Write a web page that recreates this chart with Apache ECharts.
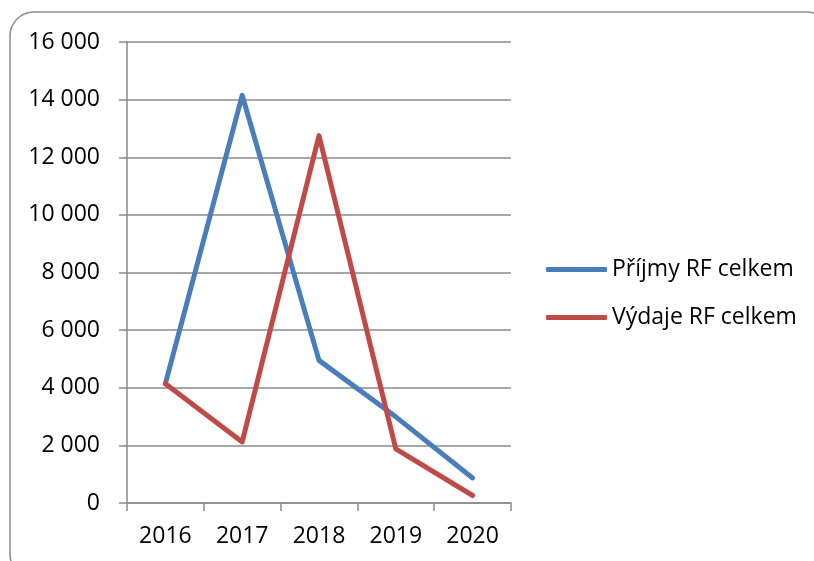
<!DOCTYPE html>
<html>
<head>
<meta charset="utf-8">
<script src="https://cdn.jsdelivr.net/npm/echarts@6/dist/echarts.min.js"></script>
<style>
  html, body { margin: 0; padding: 0; background: #fff; }
  #chart { width: 814px; height: 561px; }
</style>
</head>
<body>
<div id="chart"></div>
<script>
var years = ["2016", "2017", "2018", "2019", "2020"];
var prijmy = [4140, 14150, 4950, 2990, 870];
var vydaje = [4140, 2120, 12750, 1880, 260];
var seriesNames = ["Příjmy RF celkem", "Výdaje RF celkem"];

var font = "Open Sans, Liberation Sans, sans-serif";
var gridColor = "#8a8a8a";

var myChart = echarts.init(document.getElementById("chart"));
var option = {
  animation: false,
  color: ["#4a7ebb", "#be4b48"],
  // rounded frame around the chart, runs past the right/bottom edge
  graphic: [
    {
      type: "rect",
      shape: { x: 10, y: 12, width: 820, height: 566, r: 24 },
      style: { fill: "none", stroke: "#8c8c8c", lineWidth: 1.5 }
    }
  ],
  grid: { left: 127, top: 42, width: 384, height: 461 },
  legend: {
    orient: "vertical",
    left: 541,
    top: 253,
    itemGap: 25,
    itemWidth: 61,
    itemHeight: 5,
    icon: "roundRect",
    textStyle: { fontFamily: font, fontSize: 23, color: "#000", padding: [0, 0, 0, 0] },
    data: seriesNames
  },
  xAxis: {
    type: "category",
    data: years,
    boundaryGap: true,
    axisLine: { lineStyle: { color: gridColor, width: 1.5 } },
    axisTick: { show: true, length: 8, lineStyle: { color: gridColor, width: 1.5 } },
    axisLabel: { fontFamily: font, fontSize: 23, color: "#000", margin: 22 }
  },
  yAxis: {
    type: "value",
    min: 0,
    max: 16000,
    interval: 2000,
    axisLine: { show: true, lineStyle: { color: gridColor, width: 1.5 } },
    axisTick: { show: true, length: 8, lineStyle: { color: gridColor, width: 1.5 } },
    splitLine: { lineStyle: { color: gridColor, width: 1.5 } },
    axisLabel: {
      fontFamily: font, fontSize: 23, color: "#000", margin: 27,
      formatter: function (v) {
        return String(v).replace(/\B(?=(\d{3})+(?!\d))/g, " ");
      }
    }
  },
  series: [
    {
      name: seriesNames[0],
      type: "line",
      data: prijmy,
      symbol: "none",
      lineStyle: { width: 5, cap: "round", join: "round" }
    },
    {
      name: seriesNames[1],
      type: "line",
      data: vydaje,
      symbol: "none",
      lineStyle: { width: 5, cap: "round", join: "round" }
    }
  ]
};
myChart.setOption(option);
</script>
</body>
</html>
